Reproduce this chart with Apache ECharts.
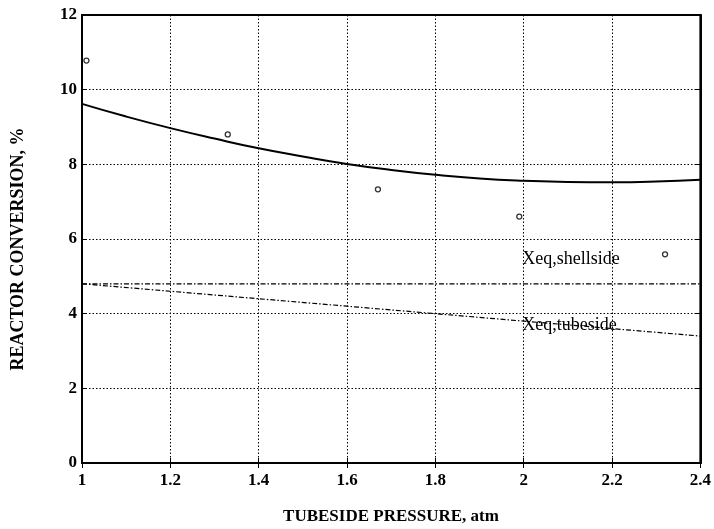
<!DOCTYPE html>
<html>
<head>
<meta charset="utf-8">
<script src="https://cdn.jsdelivr.net/npm/echarts@6/dist/echarts.min.js"></script>
<style>
  html, body { margin: 0; padding: 0; background: #fff; }
  #chart { width: 714px; height: 529px; }
</style>
</head>
<body>
<div id="chart"></div>
<script>
// Tubeside pressure (atm) and reactor conversion (%)
const measuredP = [1.01, 1.33, 1.67, 1.99, 2.32];
const measuredX = [10.78, 8.80, 7.33, 6.60, 5.59];

const modelP = [1.0, 1.1, 1.2, 1.3, 1.4, 1.5, 1.6, 1.7, 1.8, 1.9, 2.0, 2.1, 2.2, 2.3, 2.4];
const modelX = [9.62, 9.28, 8.97, 8.69, 8.43, 8.21, 8.01, 7.85, 7.72, 7.62, 7.56, 7.53, 7.52, 7.54, 7.59];

const eqP = [1.0, 1.2, 1.4, 1.6, 1.8, 2.0, 2.2, 2.4];
const eqShellside = [4.8, 4.8, 4.8, 4.8, 4.8, 4.8, 4.8, 4.8];
const eqTubeside = [4.8, 4.6, 4.4, 4.2, 4.0, 3.8, 3.6, 3.4];

const xTicks = [1, 1.2, 1.4, 1.6, 1.8, 2, 2.2, 2.4];
const yTicks = [0, 2, 4, 6, 8, 10, 12];

const curveLabels = [
  { text: 'Xeq,shellside', p: 1.99, x: 5.45 },
  { text: 'Xeq,tubeside', p: 1.99, x: 3.70 }
];

const serif = '"Liberation Serif", "DejaVu Serif", serif';
const pairs = (a, b) => a.map((v, i) => [v, b[i]]);

const chart = echarts.init(document.getElementById('chart'));

const tickLabel = { color: '#000', fontFamily: serif, fontSize: 17, fontWeight: 'bold' };

const option = {
  backgroundColor: '#fff',
  animation: false,
  grid: {
    left: 82, right: 11, top: 15, bottom: 66,
    show: true, borderColor: '#000', borderWidth: 2
  },
  xAxis: [{
    type: 'value', min: xTicks[0], max: xTicks[xTicks.length - 1], interval: 0.2,
    axisLine: { lineStyle: { color: '#000', width: 2 } },
    axisTick: { inside: true, length: 5, lineStyle: { color: '#000' } },
    axisLabel: Object.assign({ margin: 9 }, tickLabel),
    splitLine: { show: true, lineStyle: { color: '#000', type: [1.5, 2], width: 1 } }
  }, {
    type: 'value', position: 'top', min: xTicks[0], max: xTicks[xTicks.length - 1], interval: 0.2,
    axisLine: { show: true, lineStyle: { color: '#000', width: 2 } },
    axisTick: { inside: true, length: 5, lineStyle: { color: '#000' } },
    axisLabel: { show: false }, splitLine: { show: false }
  }],
  yAxis: [{
    type: 'value', min: yTicks[0], max: yTicks[yTicks.length - 1], interval: 2,
    axisLine: { show: true, lineStyle: { color: '#000', width: 2 } },
    axisTick: { show: true, inside: true, length: 5, lineStyle: { color: '#000' } },
    axisLabel: Object.assign({ margin: 5 }, tickLabel),
    splitLine: { show: true, lineStyle: { color: '#000', type: [1.5, 2], width: 1 } }
  }, {
    type: 'value', position: 'right', min: yTicks[0], max: yTicks[yTicks.length - 1], interval: 2,
    axisLine: { show: true, lineStyle: { color: '#000', width: 2 } },
    axisTick: { show: true, inside: true, length: 5, lineStyle: { color: '#000' } },
    axisLabel: { show: false }, splitLine: { show: false }
  }],
  series: [
    {
      name: 'model', type: 'line', data: pairs(modelP, modelX), smooth: true,
      showSymbol: false, lineStyle: { color: '#000', width: 2 }
    },
    {
      name: 'Xeq,shellside', type: 'line', data: pairs(eqP, eqShellside),
      showSymbol: false, lineStyle: { color: '#000', width: 1.2, type: [5, 2, 1.5, 2] }
    },
    {
      name: 'Xeq,tubeside', type: 'line', data: pairs(eqP, eqTubeside),
      showSymbol: false, lineStyle: { color: '#000', width: 1.2, type: [5, 2, 1.5, 2] }
    },
    {
      name: 'measured', type: 'scatter', data: pairs(measuredP, measuredX),
      symbol: 'circle', symbolSize: 5,
      itemStyle: { color: '#fff', borderColor: '#000', borderWidth: 1.3 }
    }
  ]
};
chart.setOption(option);

// Curve annotations and axis titles
const graphics = curveLabels.map(l => {
  const pt = chart.convertToPixel({ gridIndex: 0 }, [l.p, l.x]);
  return {
    type: 'text', x: pt[0] + 3, y: pt[1],
    style: { text: l.text, fill: '#000', font: '18px ' + serif, textVerticalAlign: 'middle' }
  };
});
graphics.push({
  type: 'text', x: 391, y: 517,
  style: { text: 'TUBESIDE PRESSURE, atm', fill: '#000', font: 'bold 17px ' + serif,
           textAlign: 'center', textVerticalAlign: 'middle' }
});
graphics.push({
  type: 'text', x: 18, y: 249, rotation: Math.PI / 2,
  style: { text: 'REACTOR CONVERSION, %', fill: '#000', font: 'bold 18px ' + serif,
           textAlign: 'center', textVerticalAlign: 'middle' }
});
chart.setOption({ graphic: graphics });
</script>
</body>
</html>
